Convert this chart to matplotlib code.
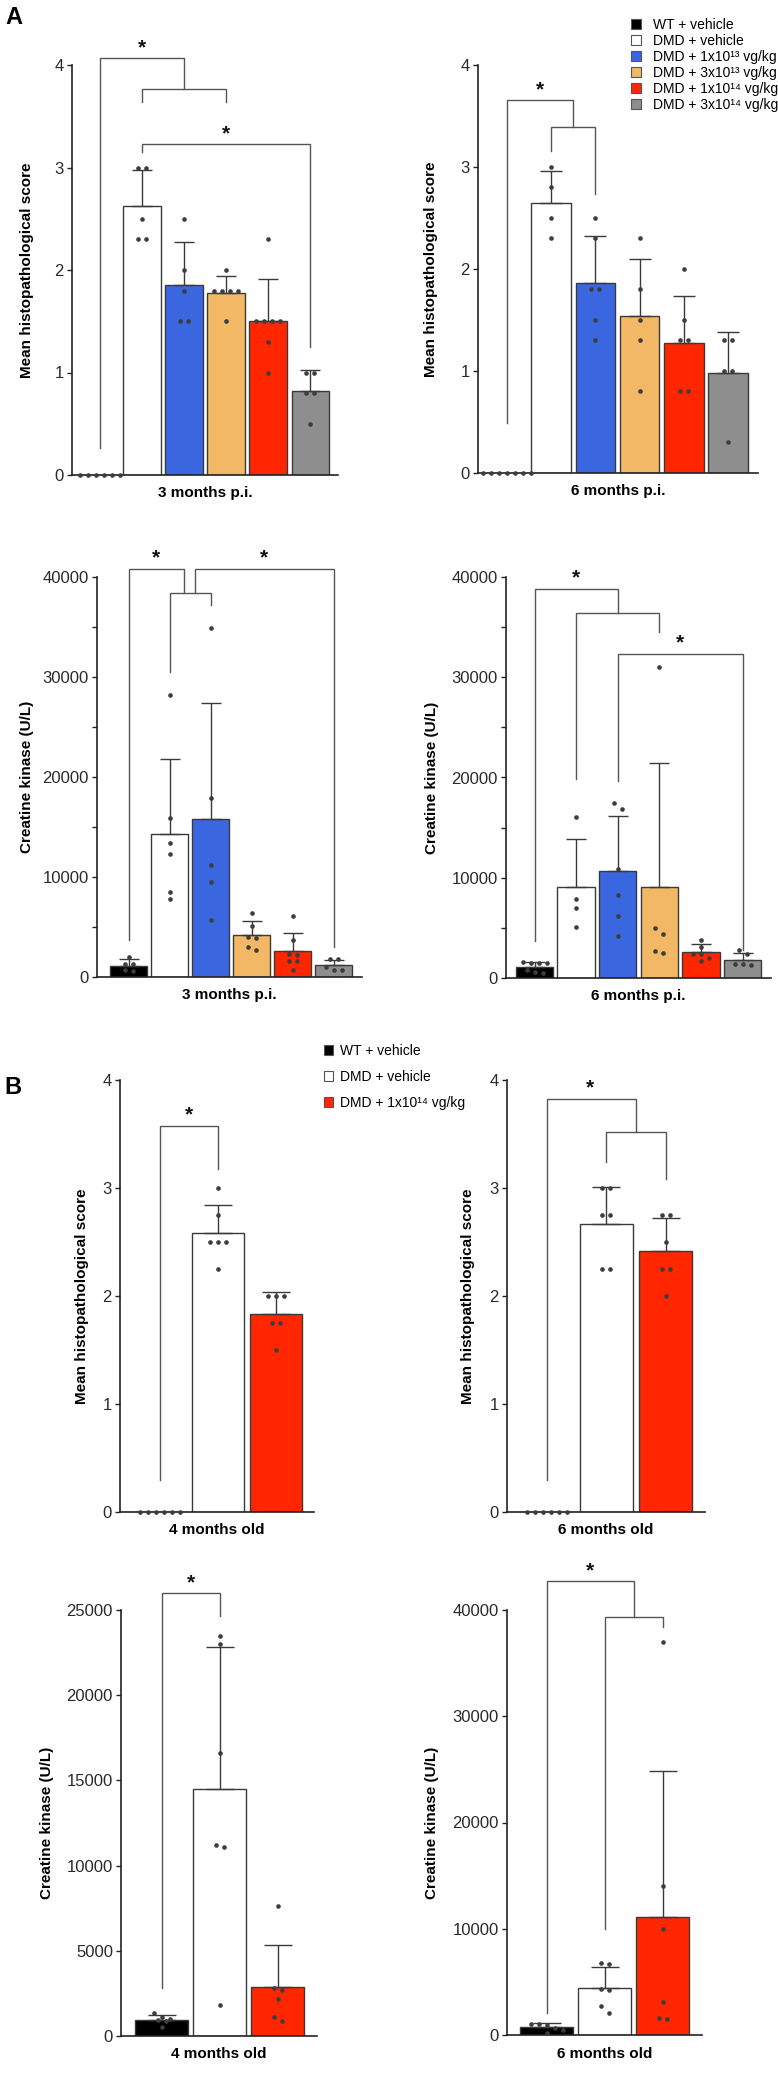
import numpy as np
import matplotlib
matplotlib.use('Agg')
import matplotlib.pyplot as plt
from matplotlib.patches import Patch
from matplotlib.ticker import MultipleLocator

plt.rcParams['font.family'] = ['Liberation Sans', 'DejaVu Sans']

# groups and colours
groups_a = ['WT + vehicle', 'DMD + vehicle', 'DMD + 1x10¹³ vg/kg',
            'DMD + 3x10¹³ vg/kg', 'DMD + 1x10¹⁴ vg/kg', 'DMD + 3x10¹⁴ vg/kg']
colors_a = ['#000000', '#ffffff', '#3a67e0', '#f2b866', '#ff2600', '#8e8e8e']
groups_b = ['WT + vehicle', 'DMD + vehicle', 'DMD + 1x10¹⁴ vg/kg']
colors_b = ['#000000', '#ffffff', '#ff2600']

# A: histopathology, 3 months p.i.
hist_3m_mean = [0, 2.62, 1.85, 1.78, 1.50, 0.82]
hist_3m_sd = [0, 0.36, 0.42, 0.16, 0.41, 0.20]
hist_3m_pts = [[0, 0, 0, 0, 0, 0],
               [3.0, 3.0, 2.5, 2.3, 2.3],
               [2.5, 2.0, 1.8, 1.5, 1.5],
               [2.0, 1.8, 1.8, 1.8, 1.8, 1.5],
               [2.3, 1.5, 1.5, 1.5, 1.5, 1.3, 1.0],
               [1.0, 1.0, 0.8, 0.8, 0.5]]

# A: histopathology, 6 months p.i.
hist_6m_mean = [0, 2.65, 1.86, 1.54, 1.27, 0.98]
hist_6m_sd = [0, 0.31, 0.46, 0.56, 0.47, 0.40]
hist_6m_pts = [[0, 0, 0, 0, 0, 0, 0],
               [3.0, 2.8, 2.5, 2.3],
               [2.5, 2.3, 1.8, 1.8, 1.5, 1.3],
               [2.3, 1.8, 1.5, 1.3, 0.8],
               [2.0, 1.5, 1.3, 1.3, 0.8, 0.8],
               [1.3, 1.3, 1.0, 1.0, 0.3]]

# A: creatine kinase, 3 months p.i.
ck_3m_mean = [1150, 14350, 15850, 4200, 2600, 1200]
ck_3m_sd = [650, 7450, 11550, 1400, 1800, 550]
ck_3m_pts = [[2000, 1350, 1350, 700, 600],
             [28200, 15900, 13400, 12300, 8500, 7800],
             [34900, 17900, 11200, 9500, 5700],
             [6400, 5100, 4000, 3900, 3000, 2700],
             [6100, 3700, 2300, 2200, 1600, 1600, 700],
             [1800, 1800, 1000, 700, 700]]

# A: creatine kinase, 6 months p.i.
ck_6m_mean = [1130, 9030, 10650, 9100, 2550, 1820]
ck_6m_sd = [450, 4870, 5550, 12300, 850, 720]
ck_6m_pts = [[1600, 1500, 1500, 1500, 800, 600, 500],
             [16100, 7900, 7000, 5100],
             [17500, 16900, 10900, 8300, 6200, 4200],
             [31000, 5000, 4400, 2700, 2500],
             [3800, 3100, 2400, 2400, 2000, 1700],
             [2800, 2400, 1400, 1400, 1300]]

# B: histopathology, 4 and 6 months old
hist_4mo_mean = [0, 2.58, 1.83]
hist_4mo_sd = [0, 0.26, 0.21]
hist_4mo_pts = [[0, 0, 0, 0, 0, 0],
                [3.0, 2.75, 2.5, 2.5, 2.5, 2.25],
                [2.0, 2.0, 2.0, 1.75, 1.75, 1.5]]
hist_6mo_mean = [0, 2.67, 2.42]
hist_6mo_sd = [0, 0.34, 0.30]
hist_6mo_pts = [[0, 0, 0, 0, 0, 0],
                [3.0, 3.0, 2.75, 2.75, 2.25, 2.25],
                [2.75, 2.75, 2.5, 2.25, 2.25, 2.0]]

# B: creatine kinase, 4 and 6 months old
ck_4mo_mean = [950, 14500, 2900]
ck_4mo_sd = [290, 8300, 2440]
ck_4mo_pts = [[1330, 1100, 1000, 950, 900, 550],
              [23450, 22990, 16600, 11190, 11090, 1820],
              [7600, 2800, 2700, 2200, 1100, 900]]
ck_6mo_mean = [720, 4400, 11150]
ck_6mo_sd = [380, 2040, 13700]
ck_6mo_pts = [[1050, 1050, 900, 700, 500, 200],
              [6800, 6700, 4300, 4200, 2700, 2100],
              [37000, 14000, 10000, 3100, 1600, 1500]]

# significance brackets: (x1, x2, y, bottom of left leg, bottom of right leg) and stars (x, y)
sig_hist_3m = [(0, 2, 4.07, 0.26, 3.77), (1, 3, 3.77, 3.64, 3.64), (1, 5, 3.23, 3.15, 1.25)]
star_hist_3m = [(1, 4.17), (3, 3.33)]
sig_hist_6m = [(0, 1.5, 3.66, 0.49, 3.39), (1, 2, 3.39, 3.16, 2.74)]
star_hist_6m = [(0.75, 3.76)]
sig_ck_3m = [(0, 1.35, 40800, 3700, 38400), (1.62, 5, 40800, 38400, 3000), (1, 2, 38400, 30500, 37200)]
star_ck_3m = [(0.675, 41900), (3.31, 41900)]
sig_ck_6m = [(0, 2, 38800, 3700, 36400), (1, 3, 36400, 19900, 34500), (2, 5, 32300, 19700, 2800)]
star_ck_6m = [(1, 39900), (3.5, 33400)]
sig_hist_4mo = [(0, 1, 3.57, 0.3, 3.18)]
star_hist_4mo = [(0.5, 3.68)]
sig_hist_6mo = [(0, 1.5, 3.82, 0.3, 3.52), (1, 2, 3.52, 3.24, 3.08)]
star_hist_6mo = [(0.72, 3.93)]
sig_ck_4mo = [(0, 1, 26000, 2800, 24650)]
star_ck_4mo = [(0.5, 26600)]
sig_ck_6mo = [(0, 1.5, 42700, 2100, 39300), (1, 2, 39300, 10000, 38400)]
star_ck_6mo = [(0.75, 43700)]

W, H = 778, 2074
fig = plt.figure(figsize=(W / 100, H / 100), dpi=100)

EDGE = '#3a3a3a'
LINE = '#555555'
DOT = '#3d3d3d'


def swarm(vals, tol, gap):
    # spread equal-ish values sideways around the bar centre
    order = sorted(vals, reverse=True)
    offs, ys = [], []
    i = 0
    while i < len(order):
        grp = [order[i]]
        j = i + 1
        while j < len(order) and order[i] - order[j] <= tol:
            grp.append(order[j])
            j += 1
        n = len(grp)
        for k, v in enumerate(grp):
            offs.append((k - (n - 1) / 2) * gap)
            ys.append(v)
        i = j
    return offs, ys


def panel(px, means, sds, pts, colors, ymax, major, minor, ylabel, xlabel,
          sig, stars, ylab_px):
    x0, x1, ytop, ybot, first_c, step = px
    ax = fig.add_axes([x0 / W, 1 - ybot / H, (x1 - x0) / W, (ybot - ytop) / H])
    n = len(means)
    xs = np.arange(n)
    ax.set_xlim((x0 - first_c) / step, (x1 - first_c) / step)
    ax.set_ylim(0, ymax)

    ax.bar(xs, means, width=0.9, color=colors, edgecolor=EDGE, linewidth=1.0, zorder=2)
    idx = [i for i in range(n) if sds[i] > 0]
    cap = 0.24 * step * 0.72
    ax.errorbar(xs[idx], np.array(means)[idx], yerr=[np.zeros(len(idx)), np.array(sds)[idx]],
                fmt='none', ecolor=EDGE, elinewidth=1.0, capsize=cap, capthick=1.0, zorder=3)

    gap = 8.0 / step
    for i, vals in enumerate(pts):
        offs, ys = swarm(vals, 0.015 * ymax, gap)
        ax.scatter(i + np.array(offs), ys, s=11, color=DOT, zorder=4, clip_on=False,
                   linewidths=0)

    for xa, xb, y, ba, bb in sig:
        ax.plot([xa, xa, xb, xb], [ba, y, y, bb], color=LINE, lw=1.0, clip_on=False,
                zorder=1, solid_joinstyle='miter')
    for sx, sy in stars:
        ax.text(sx, sy, '*', ha='center', va='center', fontsize=15, fontweight='bold',
                color='#111111', clip_on=False)

    for s in ['top', 'right']:
        ax.spines[s].set_visible(False)
    for s in ['left', 'bottom']:
        ax.spines[s].set_linewidth(1.2)
        ax.spines[s].set_color('#222222')
    ax.set_xticks([])
    ax.yaxis.set_major_locator(MultipleLocator(major))
    if minor:
        ax.yaxis.set_minor_locator(MultipleLocator(minor))
        ax.tick_params(axis='y', which='minor', length=3.5, width=1.0, color='#222222')
    ax.tick_params(axis='y', which='major', length=3.8, width=1.0, color='#222222',
                   labelsize=12, labelcolor='#2a2a2a', pad=2)

    ax.set_ylabel(ylabel, fontsize=11, fontweight='bold')
    ax.yaxis.label.set_va('center')
    ax.yaxis.set_label_coords((ylab_px - x0) / (x1 - x0), 0.5)
    ax.set_xlabel(xlabel, fontsize=11, fontweight='bold')
    ax.xaxis.label.set_va('center')
    ax.xaxis.set_label_coords(0.5, -18.5 / (ybot - ytop))
    return ax


hist_lab = 'Mean histopathological score'
ck_lab = 'Creatine kinase (U/L)'

panel((72, 338, 65, 475, 100, 42.1), hist_3m_mean, hist_3m_sd, hist_3m_pts, colors_a,
      4, 1, None, hist_lab, '3 months p.i.', sig_hist_3m, star_hist_3m, 27)
panel((478, 758, 65, 473, 507, 44.2), hist_6m_mean, hist_6m_sd, hist_6m_pts, colors_a,
      4, 1, None, hist_lab, '6 months p.i.', sig_hist_6m, star_hist_6m, 431)
panel((97, 362, 577, 977, 128.5, 41.0), ck_3m_mean, ck_3m_sd, ck_3m_pts, colors_a,
      40000, 10000, 5000, ck_lab, '3 months p.i.', sig_ck_3m, star_ck_3m, 27)
panel((506, 771, 577, 978, 534.5, 41.6), ck_6m_mean, ck_6m_sd, ck_6m_pts, colors_a,
      40000, 10000, 5000, ck_lab, '6 months p.i.', sig_ck_6m, star_ck_6m, 432)
panel((120, 314, 1080, 1512, 160, 58.0), hist_4mo_mean, hist_4mo_sd, hist_4mo_pts, colors_b,
      4, 1, None, hist_lab, '4 months old', sig_hist_4mo, star_hist_4mo, 82)
panel((507, 705, 1080, 1512, 547, 59.25), hist_6mo_mean, hist_6mo_sd, hist_6mo_pts, colors_b,
      4, 1, None, hist_lab, '6 months old', sig_hist_6mo, star_hist_6mo, 468)
panel((121, 317, 1610, 2036, 161.5, 58.0), ck_4mo_mean, ck_4mo_sd, ck_4mo_pts, colors_b,
      25000, 5000, None, ck_lab, '4 months old', sig_ck_4mo, star_ck_4mo, 47)
panel((507, 702, 1610, 2035, 546.5, 58.0), ck_6mo_mean, ck_6mo_sd, ck_6mo_pts, colors_b,
      40000, 10000, None, ck_lab, '6 months old', sig_ck_6mo, star_ck_6mo, 432)

# legends
handles_a = [Patch(facecolor=c, edgecolor='#555555', linewidth=0.8) for c in colors_a]
fig.legend(handles_a, groups_a, loc='upper left', bbox_to_anchor=(631 / W, 1 - 18 / H),
           frameon=False, fontsize=10, handlelength=0.72, handleheight=0.72,
           handletextpad=0.85, labelspacing=0.14, borderpad=0, borderaxespad=0)
handles_b = [Patch(facecolor=c, edgecolor='#555555', linewidth=0.8) for c in colors_b]
fig.legend(handles_b, groups_b, loc='upper left', bbox_to_anchor=(324 / W, 1 - 1044 / H),
           frameon=False, fontsize=10, handlelength=0.68, handleheight=0.68,
           handletextpad=0.45, labelspacing=0.86, borderpad=0, borderaxespad=0)

fig.text(14 / W, 1 - 17 / H, 'A', fontsize=17, fontweight='bold', ha='center', va='center')
fig.text(13 / W, 1 - 1087 / H, 'B', fontsize=17, fontweight='bold', ha='center', va='center')

fig.savefig('out.png', dpi=100)
